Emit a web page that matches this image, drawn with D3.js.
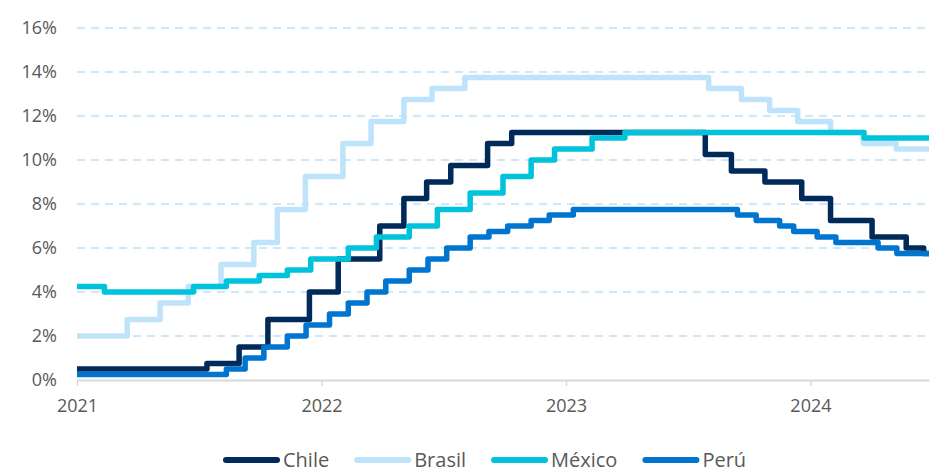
<!DOCTYPE html>
<html>
<head>
<meta charset="utf-8">
<script src="https://cdn.jsdelivr.net/npm/d3@7/dist/d3.min.js"></script>
<style>
  html, body { margin: 0; padding: 0; background: #ffffff; }
  svg { display: block; font-family: "Open Sans", "Noto Sans", sans-serif; }
</style>
</head>
<body>
<svg id="chart" width="930" height="475"></svg>
<script>
// Policy rates (%), one entry per rate change: [effective date, rate]
const chile = [
  ["2021-01-01", 0.50], ["2021-07-14", 0.75], ["2021-08-31", 1.50], ["2021-10-13", 2.75],
  ["2021-12-14", 4.00], ["2022-01-26", 5.50], ["2022-03-29", 7.00], ["2022-05-04", 8.25],
  ["2022-06-07", 9.00], ["2022-07-13", 9.75], ["2022-09-06", 10.75], ["2022-10-12", 11.25],
  ["2023-07-28", 10.25], ["2023-09-05", 9.50], ["2023-10-25", 9.00], ["2023-12-19", 8.25],
  ["2024-01-31", 7.25], ["2024-04-02", 6.50], ["2024-05-23", 6.00], ["2024-06-18", 5.75]
];
const brasil = [
  ["2021-01-01", 2.00], ["2021-03-17", 2.75], ["2021-05-05", 3.50], ["2021-06-16", 4.25],
  ["2021-08-04", 5.25], ["2021-09-22", 6.25], ["2021-10-27", 7.75], ["2021-12-08", 9.25],
  ["2022-02-02", 10.75], ["2022-03-16", 11.75], ["2022-05-04", 12.75], ["2022-06-15", 13.25],
  ["2022-08-03", 13.75], ["2023-08-02", 13.25], ["2023-09-20", 12.75], ["2023-11-01", 12.25],
  ["2023-12-13", 11.75], ["2024-01-31", 11.25], ["2024-03-20", 10.75], ["2024-05-08", 10.50]
];
const mexico = [
  ["2021-01-01", 4.25], ["2021-02-11", 4.00], ["2021-06-24", 4.25], ["2021-08-12", 4.50],
  ["2021-09-30", 4.75], ["2021-11-11", 5.00], ["2021-12-16", 5.50], ["2022-02-10", 6.00],
  ["2022-03-24", 6.50], ["2022-05-12", 7.00], ["2022-06-23", 7.75], ["2022-08-11", 8.50],
  ["2022-09-29", 9.25], ["2022-11-10", 10.00], ["2022-12-15", 10.50], ["2023-02-09", 11.00],
  ["2023-03-30", 11.25], ["2024-03-21", 11.00]
];
const peru = [
  ["2021-01-01", 0.25], ["2021-08-12", 0.50], ["2021-09-09", 1.00], ["2021-10-07", 1.50],
  ["2021-11-11", 2.00], ["2021-12-09", 2.50], ["2022-01-13", 3.00], ["2022-02-10", 3.50],
  ["2022-03-10", 4.00], ["2022-04-07", 4.50], ["2022-05-12", 5.00], ["2022-06-09", 5.50],
  ["2022-07-07", 6.00], ["2022-08-11", 6.50], ["2022-09-08", 6.75], ["2022-10-06", 7.00],
  ["2022-11-10", 7.25], ["2022-12-07", 7.50], ["2023-01-12", 7.75], ["2023-09-14", 7.50],
  ["2023-10-12", 7.25], ["2023-11-16", 7.00], ["2023-12-07", 6.75], ["2024-01-11", 6.50],
  ["2024-02-08", 6.25], ["2024-04-11", 6.00], ["2024-05-09", 5.75]
];

const seriesNames = ["Chile", "Brasil", "México", "Perú"];
const seriesData = [chile, brasil, mexico, peru];
const seriesColors = ["#002A5A", "#BEE3FA", "#00C3DB", "#0075CF"];

const yTicks = [0, 2, 4, 6, 8, 10, 12, 14, 16];
const yearTicks = ["2021-01-01", "2022-01-01", "2023-01-01", "2024-01-01"];
const startDate = "2021-01-01";
const endDate = "2024-06-26";

const parse = d3.timeParse("%Y-%m-%d");
const svg = d3.select("#chart");

const plot = { left: 77, right: 929, top: 28, bottom: 380 };

const x = d3.scaleTime()
  .domain([parse(startDate), parse(endDate)])
  .range([plot.left, plot.right]);
const y = d3.scaleLinear()
  .domain([0, 16])
  .range([plot.bottom, plot.top]);

// Dashed horizontal gridlines
svg.append("g")
  .selectAll("line")
  .data(yTicks.filter(d => d > 0))
  .join("line")
  .attr("x1", plot.left)
  .attr("x2", plot.right - 3)
  .attr("y1", d => y(d))
  .attr("y2", d => y(d))
  .attr("stroke", "#CDE8FA")
  .attr("stroke-width", 2)
  .attr("stroke-dasharray", "8 6");

// Y axis labels
const yAxis = svg.append("g")
  .attr("transform", `translate(${plot.left},0)`)
  .call(d3.axisLeft(y).tickValues(yTicks).tickFormat(d => d + "%").tickSize(0).tickPadding(20));
yAxis.select(".domain").remove();
yAxis.selectAll("text")
  .attr("fill", "#595959")
  .style("font-size", "18px")
  .style("font-family", "'Open Sans', sans-serif");

// X axis (years)
const xAxis = svg.append("g")
  .attr("transform", `translate(0,${plot.bottom})`)
  .call(d3.axisBottom(x)
    .tickValues(yearTicks.map(parse))
    .tickFormat(d3.timeFormat("%Y"))
    .tickSizeInner(6)
    .tickSizeOuter(0)
    .tickPadding(13));
xAxis.select(".domain").attr("stroke", "#D9D9D9").attr("stroke-width", 2);
xAxis.selectAll(".tick line").attr("stroke", "#D9D9D9").attr("stroke-width", 1.5);
xAxis.selectAll("text")
  .attr("fill", "#595959")
  .style("font-size", "18px")
  .style("font-family", "'Open Sans', sans-serif");

// Step lines, extended to the last date of the period
const line = d3.line()
  .x(d => x(d.date))
  .y(d => y(d.value))
  .curve(d3.curveStepAfter);

const series = seriesData.map((rows, i) => {
  const pts = rows.map(([d, v]) => ({ date: parse(d), value: v }));
  pts.push({ date: parse(endDate), value: pts[pts.length - 1].value });
  return { name: seriesNames[i], color: seriesColors[i], points: pts };
});

svg.append("g")
  .selectAll("path")
  .data(series)
  .join("path")
  .attr("fill", "none")
  .attr("stroke", d => d.color)
  .attr("stroke-width", 5.5)
  .attr("stroke-linejoin", "round")
  .attr("d", d => line(d.points));

// Legend
const legend = svg.append("g").attr("transform", "translate(0,460)");
let lx = 223;
series.forEach(s => {
  const g = legend.append("g");
  g.append("line")
    .attr("x1", lx + 3).attr("x2", lx + 54)
    .attr("y1", 0).attr("y2", 0)
    .attr("stroke", s.color)
    .attr("stroke-width", 6)
    .attr("stroke-linecap", "round");
  const t = g.append("text")
    .attr("x", lx + 60)
    .attr("y", 7)
    .attr("fill", "#595959")
    .style("font-size", "20px")
    .text(s.name);
  lx += 60 + t.node().getComputedTextLength() + 25;
});
</script>
</body>
</html>
